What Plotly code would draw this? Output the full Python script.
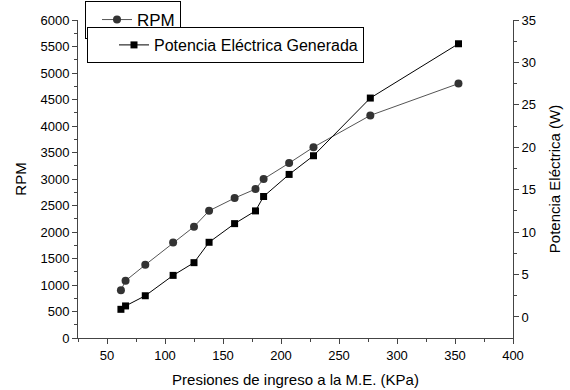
import plotly.graph_objects as go

presion = [62, 66, 83, 107, 125, 138, 160, 178, 185, 207, 228, 277, 353]
rpm = [900, 1080, 1380, 1800, 2100, 2400, 2640, 2810, 3000, 3300, 3600, 4200, 4800]
potencia = [0.9, 1.3, 2.5, 4.9, 6.4, 8.8, 11.0, 12.5, 14.2, 16.8, 19.0, 25.8, 32.2]

FAM = "Liberation Sans, Arial, sans-serif"
font = dict(family=FAM, size=13, color="#000")
title_font = dict(family=FAM, size=15, color="#000")

FW, FH = 570, 390
L, R, T, B = 78, 513, 20, 338
W, H = R - L, B - T

fig = go.Figure()
fig.add_trace(go.Scatter(
    x=presion, y=rpm, name="RPM", mode="lines+markers",
    line=dict(color="#555555", width=1),
    marker=dict(symbol="circle", size=8, color="#333333"),
    legend="legend", yaxis="y", showlegend=True))
fig.add_trace(go.Scatter(
    x=presion, y=potencia, name="Potencia Eléctrica Generada", mode="lines+markers",
    line=dict(color="#000000", width=1),
    marker=dict(symbol="square", size=7, color="#000000"),
    legend="legend2", yaxis="y2", showlegend=True))

axis_common = dict(showgrid=False, zeroline=False, showline=True, linecolor="#444",
                   linewidth=1, ticks="outside", ticklen=5, tickcolor="#444",
                   tickfont=font, automargin=False)

fig.update_layout(
    width=FW, height=FH,
    margin=dict(l=L, r=FW - R, t=T, b=FH - B, autoexpand=False),
    paper_bgcolor="white", plot_bgcolor="white",
    font=font,
    showlegend=True,
    xaxis=dict(range=[25, 400], tick0=0, dtick=50,
               minor=dict(ticks="outside", dtick=25, ticklen=3, tickcolor="#444"),
               title=dict(text="Presiones de ingreso a la M.E. (KPa)", font=title_font, standoff=12),
               **axis_common),
    yaxis=dict(range=[0, 6000], tick0=0, dtick=500,
               minor=dict(ticks="outside", dtick=250, ticklen=3, tickcolor="#444"),
               title=dict(text="RPM", font=title_font, standoff=10),
               **axis_common),
    yaxis2=dict(range=[-2.48, 35], tick0=0, dtick=5, overlaying="y", side="right",
                minor=dict(ticks="outside", dtick=2.5, ticklen=3, tickcolor="#444"),
                title=dict(text="Potencia Eléctrica (W)", font=title_font, standoff=14),
                **axis_common),
    legend=dict(x=(85 - L) / W, y=1 + (T - 1) / H, xref="paper", yref="paper",
                xanchor="left", yanchor="top",
                bordercolor="#000", borderwidth=1, bgcolor="white",
                font=dict(family=FAM, size=17, color="#000"),
                indentation=11, itemwidth=30, tracegroupgap=0),
    legend2=dict(x=(87 - L) / W, y=1 - (27 - T) / H, xref="paper", yref="paper",
                 xanchor="left", yanchor="top",
                 bordercolor="#000", borderwidth=1, bgcolor="white",
                 font=dict(family=FAM, size=16, color="#000"),
                 indentation=26, itemwidth=30),
)

fig.write_html("out.html", config={"displayModeBar": False},
               post_script="document.body.style.margin='0';document.body.style.overflow='hidden';")
